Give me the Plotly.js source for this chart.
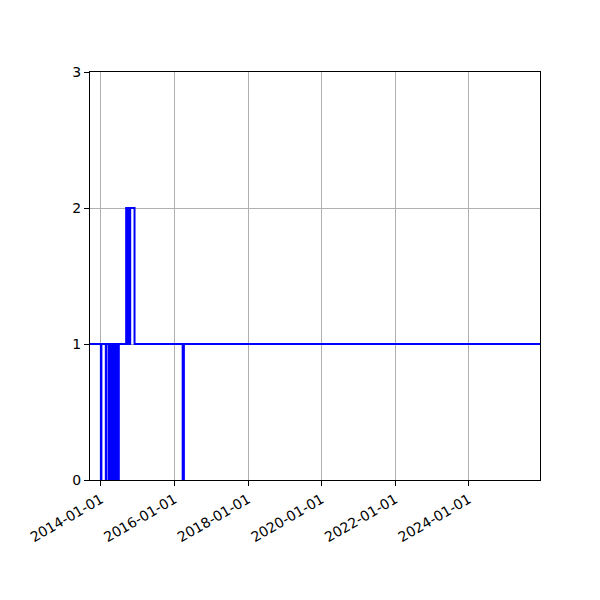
<!DOCTYPE html>
<html>
<head>
<meta charset="utf-8">
<script src="https://cdn.plot.ly/plotly-3.0.1.min.js"></script>
<style>
  html, body {margin:0; padding:0; background:#ffffff;}
  #chart {width:600px; height:600px;}
</style>
</head>
<body>
<div id="chart"></div>
<script>
///////////////////////////////////////////////////////////////////////////////
// step series (value holds until the next date)
let dates = [
    '2013-09-01',
    '2014-01-01', '2014-01-06',
    '2014-02-19', '2014-02-24',
    '2014-03-20', '2014-03-24', '2014-03-28', '2014-04-01', '2014-04-05',
    '2014-04-09', '2014-04-13', '2014-04-17', '2014-04-21', '2014-04-25',
    '2014-04-29', '2014-05-03', '2014-05-07', '2014-05-11', '2014-05-15',
    '2014-05-19', '2014-05-23', '2014-05-27', '2014-05-31', '2014-06-04',
    '2014-06-08', '2014-06-12', '2014-06-16', '2014-06-20', '2014-06-24',
    '2014-06-28', '2014-07-03',
    '2014-09-09', '2014-09-13', '2014-09-17', '2014-09-21', '2014-09-25',
    '2014-09-29', '2014-10-03', '2014-10-07', '2014-10-11', '2014-10-15',
    '2014-10-19', '2014-10-24',
    '2014-12-01',
    '2016-03-23', '2016-04-04',
    '2026-01-01'
];

let values = [
    1,
    0, 1,
    0, 1,
    0, 1, 0, 1, 0,
    1, 0, 1, 0, 1,
    0, 1, 0, 1, 0,
    1, 0, 1, 0, 1,
    0, 1, 0, 1, 0,
    1, 1,
    2, 1, 2, 1, 2,
    1, 2, 1, 2, 1,
    2, 2,
    1,
    0, 1,
    1
];

let x_range = ['2013-09-15', '2025-12-08'];
let x_ticks = ['2014-01-01', '2016-01-01', '2018-01-01', '2020-01-01', '2022-01-01', '2024-01-01'];
let x_labels = ['2014-01-01', '2016-01-01', '2018-01-01', '2020-01-01', '2022-01-01', '2024-01-01'];
let y_ticks = [0, 1, 2, 3];


///////////////////////////////////////////////////////////////////////////////
let plot_traces = [];
let plot_layout = {};
let plot_config = {staticPlot: true};

plot_traces.push({
    x: dates,
    y: values,
    type: 'scatter',
    mode: 'lines',
    line: {color: '#0000ff', width: 2, shape: 'hv'},
    hoverinfo: 'skip',
});

let axis_common = {
    showgrid: true,
    gridcolor: '#b0b0b0',
    gridwidth: 1,
    showline: true,
    linecolor: '#000000',
    linewidth: 1,
    mirror: true,
    ticks: 'outside',
    ticklen: 5,
    tickwidth: 1,
    tickcolor: '#000000',
    zeroline: false,
    tickfont: {family: 'DejaVu Sans', size: 14, color: '#000000'},
};

plot_layout = {
    width: 600,
    height: 600,
    margin: {l: 90, r: 60, t: 72, b: 120},
    paper_bgcolor: '#ffffff',
    plot_bgcolor: '#ffffff',
    showlegend: false,
    xaxis: Object.assign({}, axis_common, {
        type: 'date',
        range: x_range,
        tickmode: 'array',
        tickvals: x_ticks,
        ticktext: x_labels,
        tickangle: -30,
    }),
    yaxis: Object.assign({}, axis_common, {
        range: [0, 3],
        tickmode: 'array',
        tickvals: y_ticks,
        ticktext: y_ticks.map(String),
    }),
};

Plotly.newPlot(document.getElementById('chart'), plot_traces, plot_layout, plot_config);
</script>
</body>
</html>
